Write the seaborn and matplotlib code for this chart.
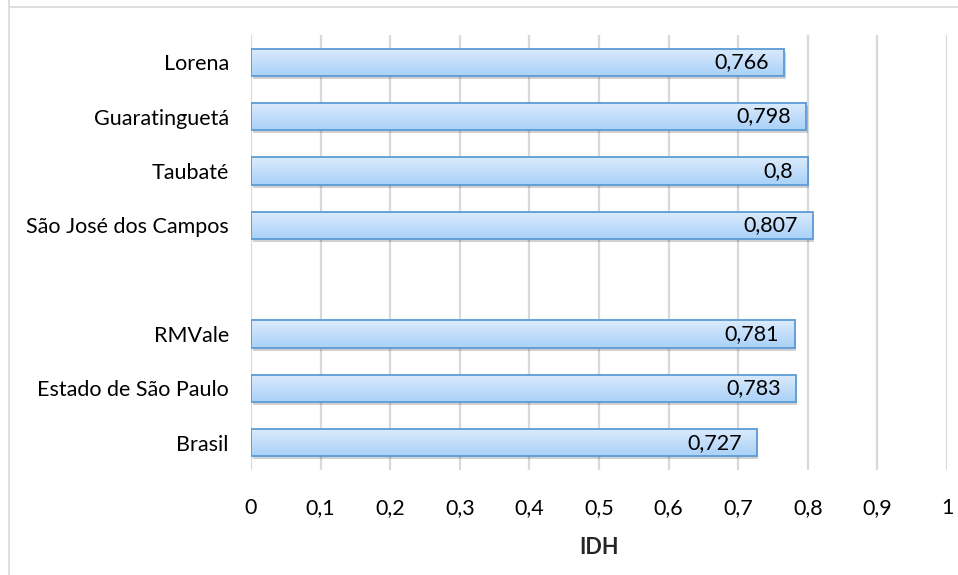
import numpy as np
import pandas as pd
import matplotlib
matplotlib.use("Agg")
import matplotlib.pyplot as plt
from matplotlib.patches import Rectangle
import matplotlib.transforms as mtransforms
import seaborn as sns

# IDH por localidade (municípios, região, estado e país)
locais = ["Lorena", "Guaratinguetá", "Taubaté", "São José dos Campos",
          "RMVale", "Estado de São Paulo", "Brasil"]
idh = [0.766, 0.798, 0.800, 0.807, 0.781, 0.783, 0.727]
rotulos = ["0,766", "0,798", "0,8", "0,807", "0,781", "0,783", "0,727"]
ticks = [0, 0.1, 0.2, 0.3, 0.4, 0.5, 0.6, 0.7, 0.8, 0.9, 1.0]
tick_labels = ["0", "0,1", "0,2", "0,3", "0,4", "0,5", "0,6", "0,7", "0,8", "0,9", "1"]

# ordem das categorias com uma linha vazia separando municípios e agregados
ordem = locais[:4] + [" "] + locais[4:]

sns.set_theme(style="white")
plt.rcParams["font.family"] = ["Lato", "DejaVu Sans"]
FS = 15.5

df = pd.DataFrame({"local": locais, "idh": idh})

fig = plt.figure(figsize=(9.58, 5.75), dpi=100)
ax = fig.add_axes([251 / 958, 1 - 470 / 575, (947 - 251) / 958, (470 - 35) / 575])

sns.barplot(data=df, y="local", x="idh", order=ordem, orient="h",
            color="#bcdcf9", edgecolor="#5b9bd5", linewidth=1.3,
            width=0.5, ax=ax, zorder=3)

ax.set_xlim(0, 1)
ax.set_xticks(ticks)
ax.set_xticklabels(tick_labels, fontsize=FS, color="#000000")
ax.tick_params(axis="x", length=0, pad=20)
ax.tick_params(axis="y", length=0, pad=16, labelsize=FS, labelcolor="#000000")
ax.xaxis.grid(True, color="#d9d9d9", linewidth=1.6, zorder=0)
ax.yaxis.grid(False)
for s in ax.spines.values():
    s.set_visible(False)
ax.set_ylabel("")
ax.set_xlabel("IDH", fontsize=FS, fontweight="bold", labelpad=14)

# gradiente vertical (claro em cima, mais escuro embaixo) e sombra em cada barra
grad = np.linspace(0, 1, 64).reshape(-1, 1)
cmap = matplotlib.colors.LinearSegmentedColormap.from_list(
    "g", ["#dcebfc", "#a9d1f8"])
shadow_off = mtransforms.offset_copy(ax.transData, fig=fig, x=1.5, y=-3, units="dots")
for p in list(ax.patches):
    w = p.get_width()
    if not np.isfinite(w) or w <= 0:
        continue
    x0, y0, h = p.get_x(), p.get_y(), p.get_height()
    sh = Rectangle((x0, y0), w, h, transform=shadow_off, facecolor="#000000",
                   alpha=0.18, edgecolor="none", zorder=2)
    ax.add_patch(sh)
    im = ax.imshow(grad, cmap=cmap, aspect="auto", origin="lower",
                   extent=(x0, x0 + w, y0, y0 + h), zorder=3.5,
                   interpolation="bicubic")
    im.set_clip_path(p)
    p.set_zorder(4)
    p.set_facecolor("none")

ax.set_xlim(0, 1)
ax.set_ylim(len(ordem) - 0.5, -0.5)

for i, nome in enumerate(locais):
    pos = ordem.index(nome)
    ax.annotate(rotulos[i], xy=(idh[i], pos), xytext=(-11, 0),
                textcoords="offset points", ha="right", va="center",
                fontsize=FS, color="#000000", zorder=6)

# moldura do gráfico
fig.add_artist(Rectangle((8.5 / 958, -0.1), 2, 2, transform=fig.transFigure,
                         fill=False, edgecolor="#d9d9d9", linewidth=1.2))
fig.add_artist(plt.Line2D([8.5 / 958, 1], [1 - 6.5 / 575, 1 - 6.5 / 575],
                          transform=fig.transFigure, color="#d9d9d9", linewidth=1.2))

fig.savefig("out.png", dpi=100)
